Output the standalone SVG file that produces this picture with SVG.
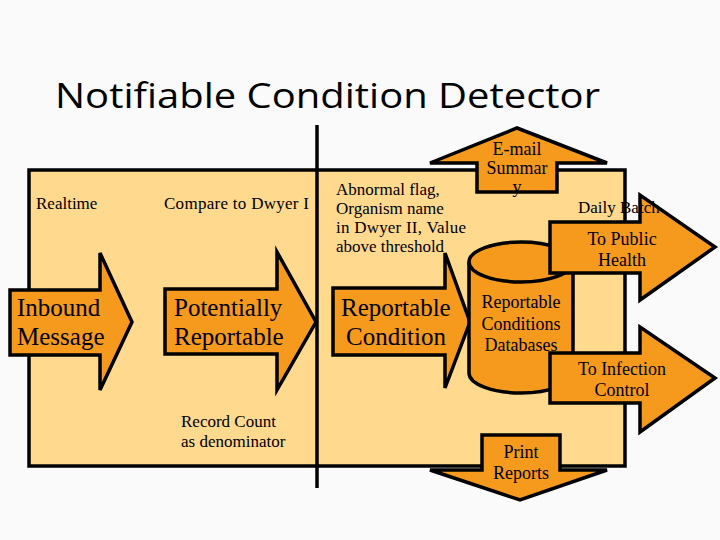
<svg xmlns="http://www.w3.org/2000/svg" width="720" height="540" viewBox="0 0 720 540">
<style>
.a{fill:#F59A1C;stroke:#000;stroke-width:3.5;stroke-linejoin:miter}
.t{font-family:"Liberation Serif",serif;fill:#000}
.s{font-size:17px}
.b{font-size:25px}
.m{font-size:18px}
</style>
<rect width="720" height="540" fill="#fafafa"/>
<text x="55" y="108" font-family="'Open Sans','DejaVu Sans',sans-serif" font-size="35" fill="#000" textLength="545" lengthAdjust="spacingAndGlyphs">Notifiable Condition Detector</text>
<g id="box"><rect x="29" y="170" width="596" height="296" fill="#FFD98E" stroke="#000" stroke-width="3.5"/></g>
<g id="divider"><line x1="317" y1="125" x2="317" y2="488" stroke="#000" stroke-width="3.5"/></g>
<g id="labels" class="t s">
<text x="36" y="209">Realtime</text>
<text x="164" y="209" textLength="145">Compare to Dwyer I</text>
<text x="336" y="195">Abnormal flag,</text>
<text x="336" y="214">Organism name</text>
<text x="336" y="233" textLength="130">in Dwyer II, Value</text>
<text x="336" y="252">above threshold</text>
<text x="181" y="427">Record Count</text>
<text x="181" y="447">as denominator</text>
</g>
<g id="connectors">
<g id="inbound"><path class="a" d="M10,290 H100 V253 L132,322 L100,390 V355 H10 Z"/>
<text class="t b" x="17" y="316">Inbound</text><text class="t b" x="17" y="345">Message</text></g>
<g id="potential"><path class="a" d="M165,289 H277 V252 L316,322 L277,390 V354 H165 Z"/>
<text class="t b" x="174" y="316">Potentially</text><text class="t b" x="174" y="345">Reportable</text></g>
<g id="reportable"><path class="a" d="M333,288 H445 V253 L470,322 L445,388 V355 H333 Z"/>
<text class="t b" x="341" y="316">Reportable</text><text class="t b" x="346" y="345">Condition</text></g>
<g id="email"><path class="a" d="M477,192 V163 H430 L517,128 L607,163 H557 V192 Z"/>
<text class="t m" x="517" y="155" text-anchor="middle">E-mail</text><text class="t m" x="517" y="174" text-anchor="middle">Summar</text><text class="t m" x="517" y="193" text-anchor="middle">y</text></g>
<g id="print"><path class="a" d="M482,435 H560 V470 H607 L520,500 L430,470 H482 Z"/>
<text class="t m" x="521" y="458" text-anchor="middle">Print</text><text class="t m" x="521" y="479" text-anchor="middle">Reports</text></g>
</g>
<g id="db">
<path class="a" d="M469,262 V373 A52,20 0 0 0 573,373 V262 A52,20 0 0 0 469,262 Z"/>
<path d="M469,262 A52,20 0 0 0 573,262" fill="none" stroke="#000" stroke-width="3.5"/>
<text class="t m" x="521" y="308" text-anchor="middle">Reportable</text>
<text class="t m" x="521" y="330" text-anchor="middle">Conditions</text>
<text class="t m" x="521" y="351" text-anchor="middle">Databases</text>
</g>
<g id="public"><path class="a" d="M550,222 H640 V195 L715,247 L640,300 V273 H550 Z"/>
<text class="t m" x="622" y="245" text-anchor="middle">To Public</text><text class="t m" x="622" y="266" text-anchor="middle">Health</text></g>
<g id="infection"><path class="a" d="M550,353 H640 V327 L715,378 L640,432 V403 H550 Z"/>
<text class="t m" x="622" y="375" text-anchor="middle">To Infection</text><text class="t m" x="622" y="396" text-anchor="middle">Control</text></g>
<text class="t s" x="578" y="213">Daily Batch</text>
</svg>
